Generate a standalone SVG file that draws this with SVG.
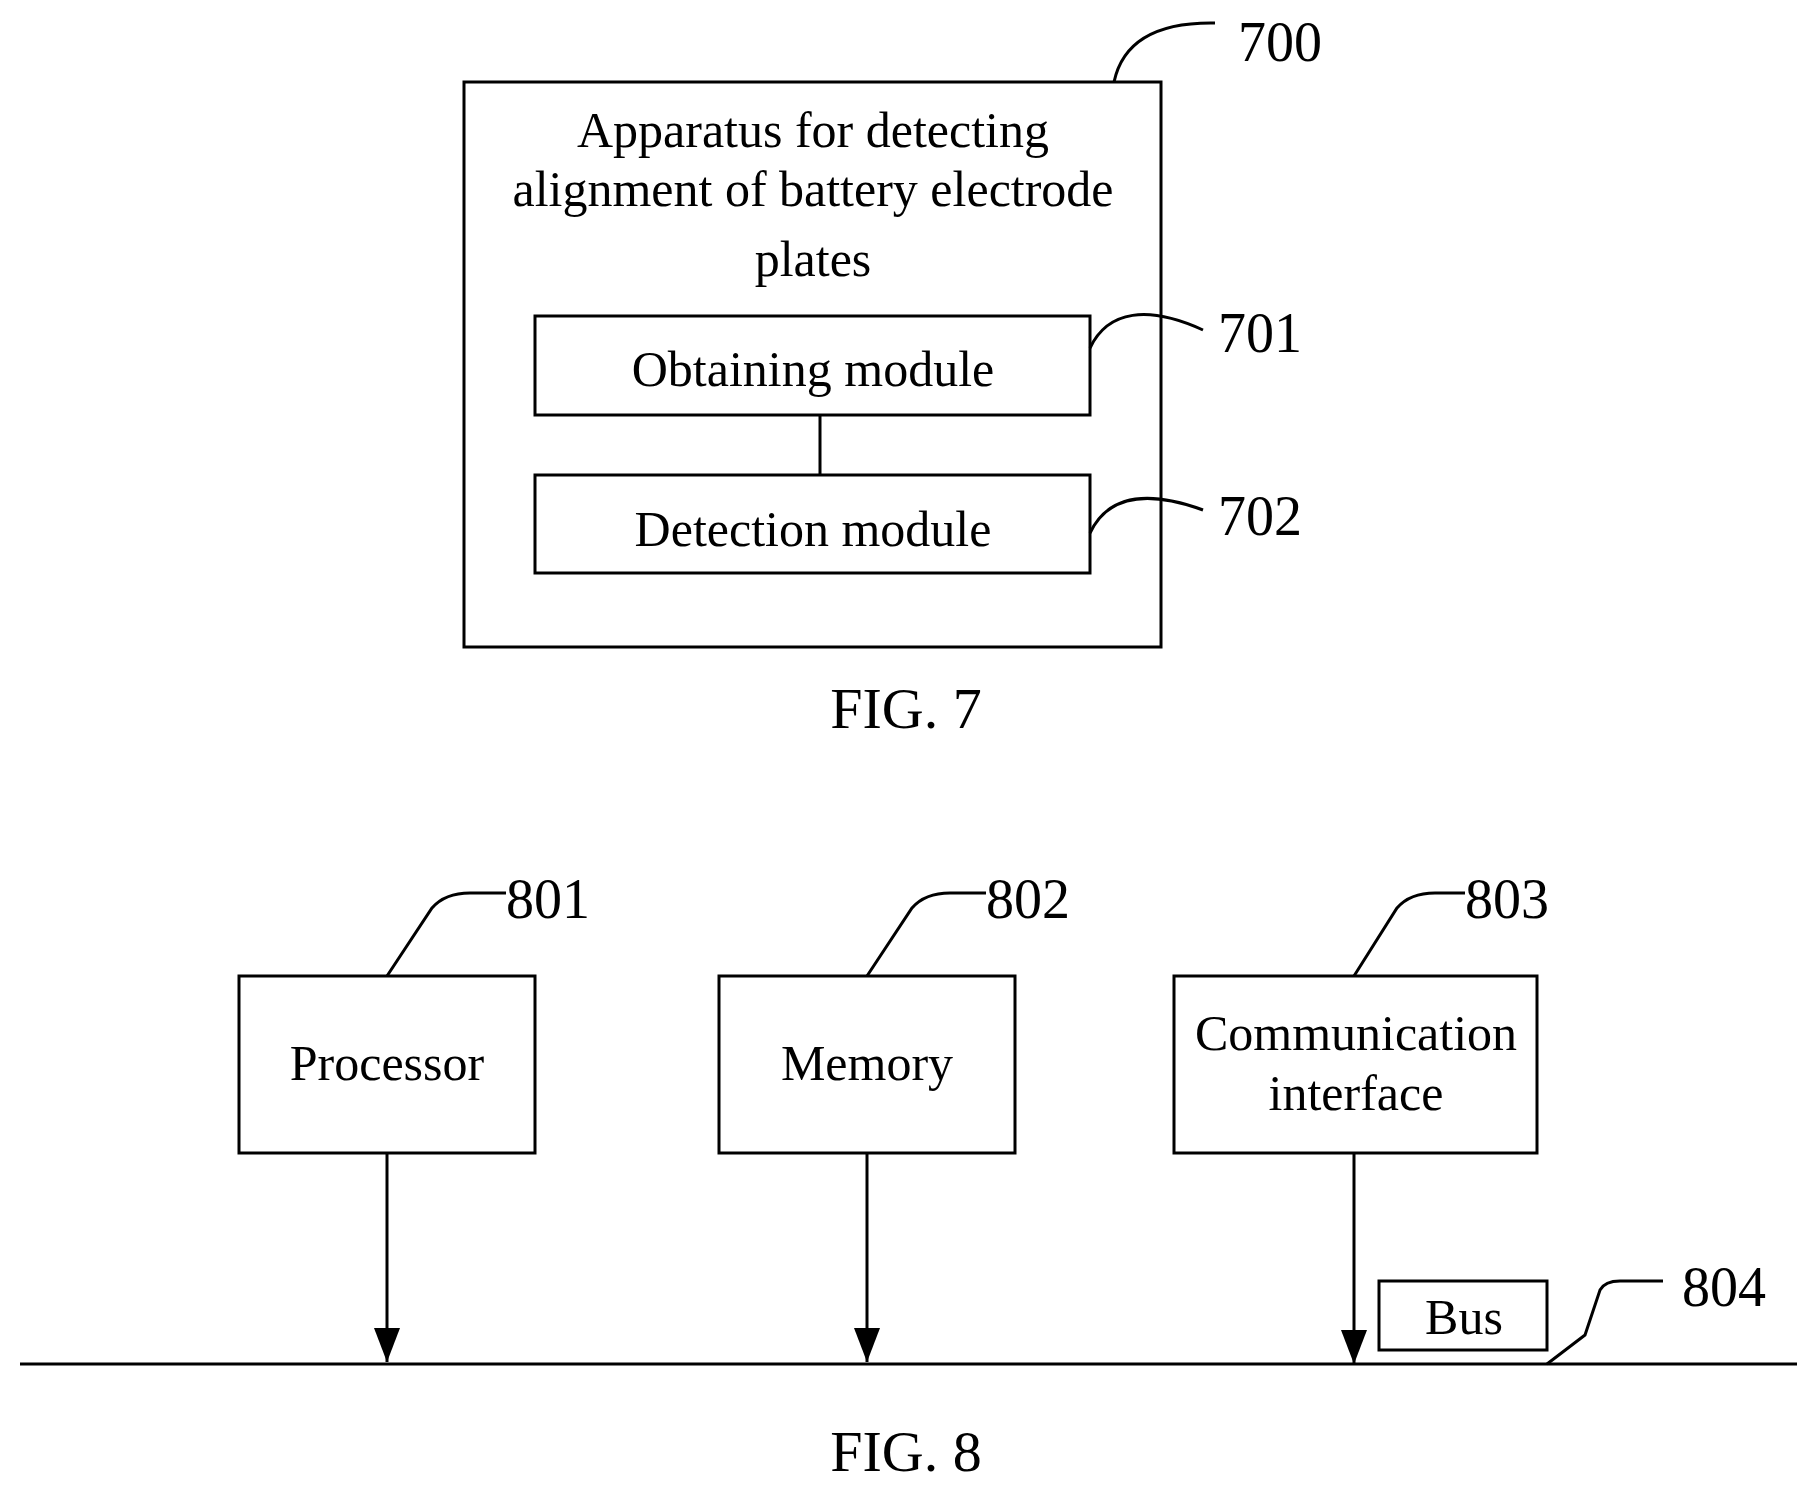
<svg xmlns="http://www.w3.org/2000/svg" width="1808" height="1485" viewBox="0 0 1808 1485">
<style>
text{font-family:"Liberation Serif","Times New Roman",serif;fill:#000}
.t{font-size:50px;text-anchor:middle}
.n{font-size:56px}
.f{font-size:58px;text-anchor:middle}
.b{fill:#fff;stroke:#000;stroke-width:3}
.l{fill:none;stroke:#000;stroke-width:3}
</style>
<defs>
<marker id="ah" viewBox="0 0 30 34" refX="15" refY="34" markerWidth="30" markerHeight="34" markerUnits="userSpaceOnUse" orient="0"><path d="M2,0 L28,0 L15,34 Z" fill="#000"/></marker></defs>
<g id="n700"><rect class="b" x="464" y="82" width="697" height="565"/>
<text class="t" x="813" y="147">Apparatus for detecting</text>
<text class="t" x="813" y="206">alignment of battery electrode</text>
<text class="t" x="813" y="276">plates</text>
<path class="l" d="M1114,82 C1123,40 1158,22 1215,23"/><text class="n" x="1238" y="61">700</text></g>
<g id="n701"><rect class="b" x="535" y="316" width="555" height="99"/><text class="t" x="813" y="386">Obtaining module</text>
<path class="l" d="M1090,348 C1108,310 1148,305 1203,330"/><text class="n" x="1218" y="352">701</text></g>
<g id="n702"><rect class="b" x="535" y="475" width="555" height="98"/><text class="t" x="813" y="546">Detection module</text>
<path class="l" d="M1090,533 C1108,495 1148,490 1203,510"/><text class="n" x="1218" y="535">702</text></g>
<text class="f" x="906" y="728">FIG. 7</text>
<g id="n801"><rect class="b" x="239" y="976" width="296" height="177"/><text class="t" x="387" y="1080">Processor</text>
<path class="l" d="M387,976 L432,908 Q445,893 470,893 L506,893"/><text class="n" x="506" y="918">801</text></g>
<g id="n802"><rect class="b" x="719" y="976" width="296" height="177"/><text class="t" x="867" y="1080">Memory</text>
<path class="l" d="M867,976 L912,908 Q925,893 950,893 L986,893"/><text class="n" x="986" y="918">802</text></g>
<g id="n803"><rect class="b" x="1174" y="976" width="363" height="177"/><text class="t" x="1356" y="1050">Communication</text><text class="t" x="1356" y="1110">interface</text>
<path class="l" d="M1354,976 L1397,908 Q1410,893 1435,893 L1465,893"/><text class="n" x="1465" y="918">803</text></g>
<g id="n804"><rect class="b" x="1379" y="1281" width="168" height="69"/><text class="t" x="1464" y="1334">Bus</text>
<line class="l" x1="20" y1="1364" x2="1797" y2="1364"/>
<path class="l" d="M1547,1364 L1585,1335 L1600,1290 Q1605,1281 1620,1281 L1663,1281"/><text class="n" x="1682" y="1306">804</text></g>
<g id="connectors">
<line class="l" x1="820" y1="415" x2="820" y2="475"/>
<line class="l" x1="387" y1="1153" x2="387" y2="1362" marker-end="url(#ah)"/>
<line class="l" x1="867" y1="1153" x2="867" y2="1362" marker-end="url(#ah)"/>
<line class="l" x1="1354" y1="1153" x2="1354" y2="1364" marker-end="url(#ah)"/>
</g>
<text class="f" x="906" y="1471">FIG. 8</text>
</svg>
